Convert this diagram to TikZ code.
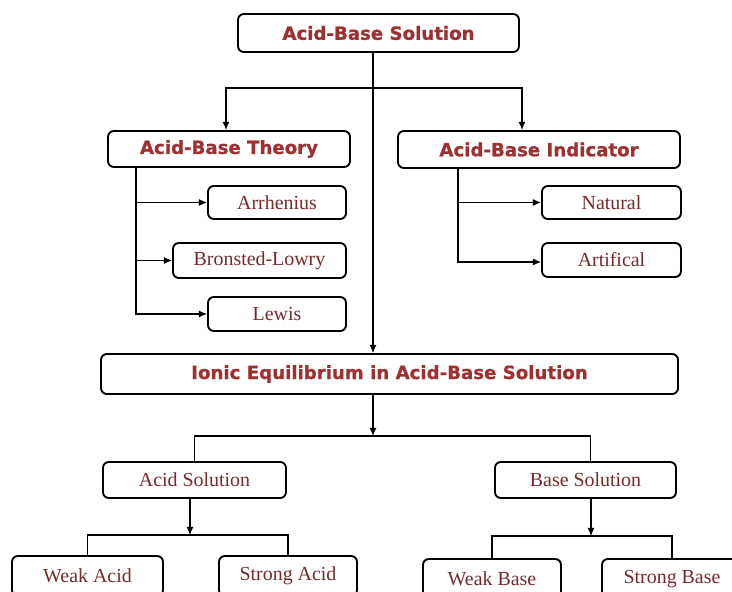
\documentclass[tikz,border=0pt]{standalone}
\usepackage{fontspec}
\setmainfont{Liberation Serif}
\newfontfamily\hdfont{DejaVu Sans}[BoldFeatures={FakeBold=0.8}]
\usepackage{tikz}
\usetikzlibrary{calc,arrows.meta,positioning}
\definecolor{hdred}{RGB}{158,48,48}
\definecolor{txred}{RGB}{118,42,42}

\begin{document}
\begin{tikzpicture}[x=0.03cm,y=-0.03cm,
      hd/.style={draw,line width=1.6pt,rounded corners=5pt,inner sep=0pt,align=center,
        text=hdred,font=\hdfont\bfseries\fontsize{15.5}{18}\selectfont},
      sb/.style={draw,line width=1.6pt,rounded corners=5pt,inner sep=0pt,align=center,
        text=txred,font=\fontsize{17}{20}\selectfont},
      >={Latex[length=7pt,width=6pt]},line width=0.9pt]
      \useasboundingbox (0,0) rectangle (732,592);
      \clip (0,0) rectangle (732,592);
      % main boxes
      \node[hd,minimum width=8.43cm,minimum height=1.14cm] (top) at (378.5,33) {Acid-Base Solution};
      \node[hd,minimum width=7.26cm,minimum height=1.08cm] (theory) at (229,149) {Acid-Base Theory};
      \node[hd,minimum width=8.46cm,minimum height=1.11cm] (indic) at (539,149.5) {Acid-Base Indicator};
      \node[hd,minimum width=17.31cm,minimum height=1.2cm] (ionic) at (389.5,374) {Ionic Equilibrium in Acid-Base Solution};
      % theories and indicators
      \node[sb,minimum width=4.14cm,minimum height=0.99cm] (arr) at (277,202.5) {Arrhenius};
      \node[sb,minimum width=5.19cm,minimum height=1.05cm] (bro) at (259.5,260.5) {Bronsted-Lowry};
      \node[sb,minimum width=4.14cm,minimum height=1.02cm] (lew) at (277,314) {Lewis};
      \node[sb,minimum width=4.17cm,minimum height=0.99cm] (nat) at (611.5,202.5) {Natural};
      \node[sb,minimum width=4.17cm,minimum height=1.02cm] (art) at (611.5,260) {Artifical};
      % solutions
      \node[sb,minimum width=5.49cm,minimum height=1.08cm] (acid) at (194.5,480) {Acid Solution};
      \node[sb,minimum width=5.43cm,minimum height=1.08cm] (base) at (585.5,480) {Base Solution};
      \node[sb,minimum width=4.53cm,minimum height=1.2cm] (wacid) at (87.5,576) {Weak Acid};
      \node[sb,minimum width=4.14cm,minimum height=1.2cm] (sacid) at (288,576) {Strong Acid};
      \node[sb,minimum width=4.14cm,minimum height=1.2cm] (wbase) at (492,579) {Weak Base};
      \node[sb,minimum width=4.2cm,minimum height=1.2cm] (sbase) at (672,579) {Strong Base};

      \coordinate (trunk) at (373,88);
      \coordinate (tspine) at (136,0);
      \coordinate (ispine) at (458,0);
      \coordinate (ibus) at (373,436);
      \coordinate (abus) at (190,535);
      \coordinate (bbus) at (591,536);

      \draw[->] (top.south -| trunk) -- (ionic.north -| trunk);
      \draw[->] (trunk) -| ([xshift=-0.09cm]theory.north);
      \draw[->] (trunk) -| ([xshift=-0.51cm]indic.north);
      \draw[->] (theory.south -| tspine) |- (arr.west);
      \draw[->] (theory.south -| tspine) |- (bro.west);
      \draw[->] (theory.south -| tspine) |- (lew.west);
      \draw[->] (indic.south -| ispine) |- (nat.west);
      \draw[->] (indic.south -| ispine) |- ([yshift=-0.06cm]art.west);
      \draw[->] (ionic.south -| ibus) -- (ibus);
      \draw (acid.north) |- (ibus) -| ([xshift=0.14cm]base.north);
      \draw[->] (acid.south -| abus) -- (abus);
      \draw (wacid.north) |- (abus) -| (sacid.north);
      \draw[->] (base.south -| bbus) -- (bbus);
      \draw (wbase.north) |- (bbus) -| (sbase.north);
    \end{tikzpicture}
\end{document}
